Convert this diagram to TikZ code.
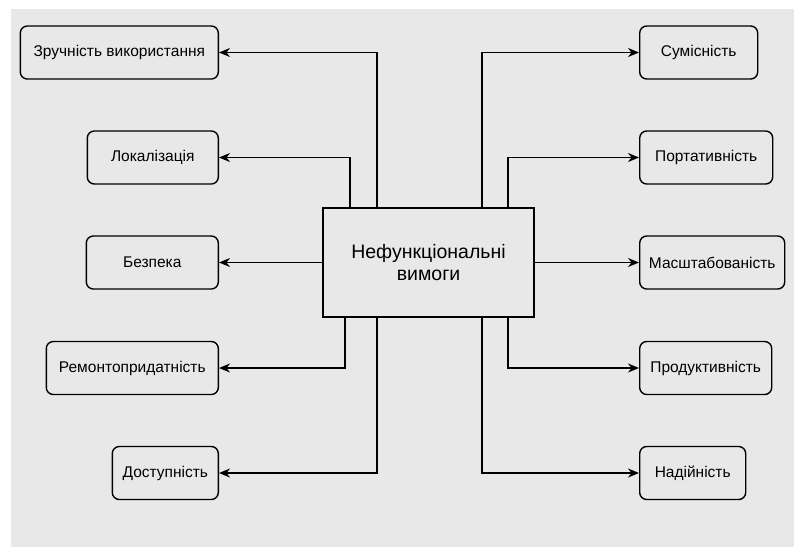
\documentclass[tikz,border=0pt]{standalone}
\usepackage{fontspec}
\setmainfont{Liberation Sans}
\usetikzlibrary{arrows.meta}

\begin{document}
\begin{tikzpicture}[x=1pt, y=-1pt, >={Stealth[length=11pt,width=9pt,inset=3.5pt]},
  req/.style={draw=black, line width=1.4pt, rounded corners=7pt, fill=gray!18,
    minimum height=53pt, inner sep=0pt, font=\fontsize{15.5}{18}\selectfont},
  arr/.style={->, line width=1.4pt}]
  % поле рисунка
  \useasboundingbox (0,0) rectangle (794,547);
  \fill[gray!18] (11,9) rectangle (794,547);
  % центральний блок
  \node[draw, line width=1.5pt, fill=gray!18, minimum width=211pt, minimum height=109pt,
    inner sep=0pt, align=center, font=\fontsize{19.5}{22}\selectfont]
    (main) at (428.5,262.5) {Нефункціональні\\вимоги};
  % ліва колонка
  \node[req, anchor=east, minimum width=198pt] (zruch) at (219,52.5)  {Зручність використання};
  \node[req, anchor=east, minimum width=131pt] (lokal) at (219,157.5) {Локалізація};
  \node[req, anchor=east, minimum width=132pt] (bezp)  at (219,262.5) {Безпека};
  \node[req, anchor=east, minimum width=172pt] (remont) at (219,368) {Ремонтопридатність};
  \node[req, anchor=east, minimum width=106pt] (dostup) at (219,473) {Доступність};
  % права колонка
  \node[req, anchor=west, minimum width=118pt] (sumis)  at (639,52.5)  {Сумісність};
  \node[req, anchor=west, minimum width=133pt] (port)   at (639,157.5) {Портативність};
  \node[req, anchor=west, minimum width=145pt] (masht)  at (639,262.5) {Масштабованість};
  \node[req, anchor=west, minimum width=132pt] (produkt) at (639,368) {Продуктивність};
  \node[req, anchor=west, minimum width=106pt] (nadiy)  at (639,473) {Надійність};
  % зв'язки ліворуч
  \draw[arr] ([xshift=-51.5pt]main.north) |- (zruch);
  \draw[arr] ([xshift=-78.5pt]main.north) |- (lokal);
  \draw[arr] (main.west) -- (bezp);
  \draw[arr] ([xshift=-83.5pt]main.south) |- (remont);
  \draw[arr] ([xshift=-51.5pt]main.south) |- (dostup);
  % зв'язки праворуч
  \draw[arr] ([xshift=53.5pt]main.north) |- (sumis);
  \draw[arr] ([xshift=79.5pt]main.north) |- (port);
  \draw[arr] (main.east) -- (masht);
  \draw[arr] ([xshift=79.5pt]main.south) |- (produkt);
  \draw[arr] ([xshift=53.5pt]main.south) |- (nadiy);
\end{tikzpicture}
\end{document}
